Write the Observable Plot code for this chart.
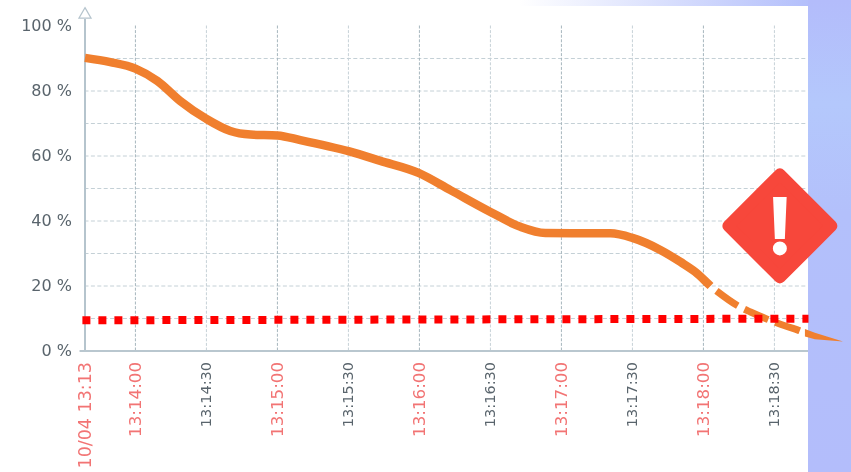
<!DOCTYPE html>
<html>
<head>
<meta charset="utf-8">
<script src="https://cdn.jsdelivr.net/npm/d3@7"></script>
<script src="https://cdn.jsdelivr.net/npm/@observablehq/plot@0.6"></script>
<style>
html,body{margin:0;padding:0;width:851px;height:472px;overflow:hidden}
body{position:relative;background:linear-gradient(90deg,#fff 61%,#b3bffb 95%)}
#panel{position:absolute;left:0;top:6px;width:808px;height:466px;background:#fff}
#band{position:absolute;left:808px;top:0;width:43px;height:472px;background:linear-gradient(180deg,#b3bcfb 0,#b4c8fc 22%,#b3c0fb 45%,#b3bdfb 100%)}
#chart{position:absolute;left:0;top:0}
#chart svg{filter:blur(.35px)}
</style>
</head>
<body>
<div id="panel"></div>
<div id="band"></div>
<div id="chart"></div>
<script>
// Time is seconds after 13:13:00; values are percent.
const xDomain = [38.7, 344.4];
const solidSecs = [38.7,49.4,60,69.3,79,90,100.1,108.6,120,129.7,150.4,163.5,179.6,193.1,210,222.7,233.2,248,260.7,270,281.8,290.3,296.6,301.7,303];
const solidVals = [90.2,88.9,86.9,83.1,76.9,71.4,67.7,66.6,66.3,64.9,61.4,58.5,54.8,49.5,42.8,38.2,36.3,36.2,36.2,34.8,31.1,27.4,24.3,20.9,20];
const dashSecs = [305.5,314.8,319.9,327,334.7,339.7,343.1];
const dashVals = [18.5,13.8,12,9.8,7.7,6.5,5.5];
const tipSecs = [343.1,347.3,359.2];
const tipTop = [6.6,5.5,2.8];
const tipBottom = [4.3,3.5,2.8];
const limitSecs = [37.6,344.4];
const limitVals = [9.45,9.95];
const minuteTicks = [60,120,180,240,300];
const halfTicks = [90,150,210,270,330];
const firstTick = [38.7];
const minuteLabels = ["13:14:00","13:15:00","13:16:00","13:17:00","13:18:00"];
const halfLabels = ["13:14:30","13:15:30","13:16:30","13:17:30","13:18:30"];
const firstLabel = ["10/04 13:13"];
const yTicks = [0,20,40,60,80,100];
const yGrid = [10,20,30,40,50,60,70,80,90];

const solid = solidSecs.map((x,i)=>({x,y:solidVals[i]}));
const dashed = dashSecs.map((x,i)=>({x,y:dashVals[i]}));
const tip = tipSecs.map((x,i)=>({x,y1:tipTop[i],y2:tipBottom[i]}));
const limit = limitSecs.map((x,i)=>({x,y:limitVals[i]}));

// Warning badge location, in chart units
const badge = [{x:332.3,y:38.5}];
const bang = {
  draw(c,size){
    const s=Math.sqrt(size/Math.PI);
    c.moveTo(-.068*s,-.29*s);c.lineTo(.068*s,-.29*s);c.lineTo(.05*s,.13*s);c.lineTo(-.05*s,.13*s);c.closePath();
    c.moveTo(.07*s,.225*s);c.arc(0,.225*s,.07*s,0,2*Math.PI);
  }
};

const fmt = (list,ticks)=>d=>list[ticks.indexOf(d)];
const chart = Plot.plot({
  width:851,height:472,
  marginLeft:84.5,marginRight:43,marginTop:25.5,marginBottom:121.5,
  style:{background:"transparent",fontFamily:"'DejaVu Sans',sans-serif"},
  x:{type:"linear",domain:xDomain},
  y:{domain:[0,100]},
  marks:[
    Plot.ruleY(yGrid,{x1:xDomain[0],x2:343.5,stroke:"#c4d0d6",strokeWidth:1,strokeDasharray:"4 2.4"}),
    Plot.ruleX(minuteTicks,{y1:0,y2:100,stroke:"#a7b6be",strokeWidth:1,strokeDasharray:"3 1.6"}),
    Plot.ruleX(halfTicks,{y1:0,y2:100,stroke:"#c6d1d7",strokeWidth:1,strokeDasharray:"3 1.6"}),
    Plot.ruleX(firstTick,{y1:0,y2:102,stroke:"#b5c4cd",strokeWidth:2}),
    Plot.ruleY([0],{x1:36.6,x2:344.4,stroke:"#b9c7cf",strokeWidth:2}),
    Plot.dot(firstTick,{x:d=>d,y:[103.5],symbol:"triangle",r:4.5,stroke:"#b5c4cd",fill:"#fff",strokeWidth:1.2}),
    Plot.axisY(yTicks,{tickSize:0,tickPadding:13,fontSize:16,fill:"#59646c",tickFormat:d=>d+" %",label:null}),
    Plot.axisX(firstTick,{tickSize:0,tickPadding:11,tickRotate:-90,fontSize:17.5,fill:"#f27474",tickFormat:fmt(firstLabel,firstTick),label:null}),
    Plot.axisX(minuteTicks,{tickSize:0,tickPadding:11,tickRotate:-90,fontSize:16.7,fill:"#f27474",tickFormat:fmt(minuteLabels,minuteTicks),label:null}),
    Plot.axisX(halfTicks,{tickSize:0,tickPadding:11,tickRotate:-90,fontSize:14.5,fill:"#59646c",tickFormat:fmt(halfLabels,halfTicks),label:null}),
    Plot.dot(badge,{x:"x",y:"y",symbol:"diamond2",r:46.4,fill:"#f7473b",stroke:"#f7473b",strokeWidth:12,strokeLinejoin:"round"}),
    Plot.dot(badge,{x:"x",y:"y",symbol:bang,r:100,fill:"#fff",stroke:"none"}),
    Plot.line(solid,{x:"x",y:"y",curve:"monotone-x",stroke:"#f07f2e",strokeWidth:8.5,strokeLinecap:"butt"}),
    Plot.line(dashed,{x:"x",y:"y",curve:"monotone-x",stroke:"#f07f2e",strokeWidth:7,strokeDasharray:"26 7.5",strokeLinecap:"butt"}),
    Plot.areaY(tip,{x:"x",y1:"y1",y2:"y2",fill:"#f07f2e"}),
    Plot.line(limit,{x:"x",y:"y",stroke:"#ff0000",strokeWidth:8,strokeDasharray:"8 8",strokeLinecap:"butt"})
  ]
});
document.getElementById("chart").appendChild(chart);
</script>
</body>
</html>
